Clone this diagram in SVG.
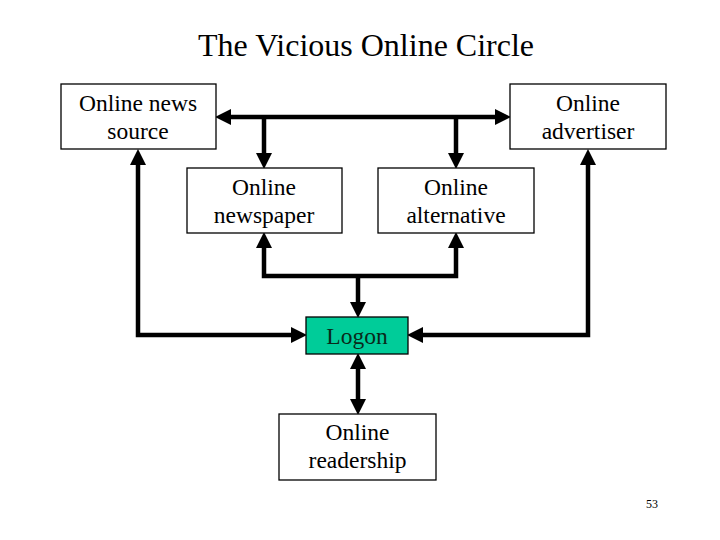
<svg xmlns="http://www.w3.org/2000/svg" width="720" height="540" viewBox="0 0 720 540">
<style>
.box{fill:#fff;stroke:#000;stroke-width:1.3}
.logon{fill:#00CC99;stroke:#000;stroke-width:1.3}
.t{font-family:"Liberation Serif","Times New Roman",serif;font-size:23.5px;text-anchor:middle;fill:#000}
.c{fill:none;stroke:#000;stroke-width:4.5;stroke-linejoin:miter}
.da{marker-start:url(#ah);marker-end:url(#ah)}
.ea{marker-end:url(#ah)}
</style>
<defs>
<marker id="ah" markerUnits="userSpaceOnUse" markerWidth="16" markerHeight="16" refX="0" refY="7.5" orient="auto-start-reverse" viewBox="0 0 15 15">
<path d="M0,0 L15,7.5 L0,15 z" fill="#000"/>
</marker>
</defs>
<rect width="720" height="540" fill="#fff"/>
<text x="366" y="56" style="font-family:'Liberation Serif','Times New Roman',serif;font-size:32px;text-anchor:middle">The Vicious Online Circle</text>
<g id="connectors">
<path class="c da" d="M231,117 H495"/>
<path class="c ea" d="M264,117 V153"/>
<path class="c ea" d="M456,117 V153"/>
<path class="c da" d="M264,248 V276 H456 V248"/>
<path class="c ea" d="M358,276 V302"/>
<path class="c da" d="M138,165 V335 H291"/>
<path class="c da" d="M588,165 V335 H423"/>
<path class="c da" d="M358,369 V399"/>
</g>
<g id="news-source">
<rect class="box" x="61" y="84" width="155" height="65"/>
<text class="t" x="138" y="110.5">Online news</text>
<text class="t" x="138" y="139">source</text>
</g>
<g id="advertiser">
<rect class="box" x="510" y="84" width="156" height="65"/>
<text class="t" x="588" y="110.5">Online</text>
<text class="t" x="588" y="139">advertiser</text>
</g>
<g id="newspaper">
<rect class="box" x="187" y="168" width="155" height="65"/>
<text class="t" x="264" y="195">Online</text>
<text class="t" x="264" y="223">newspaper</text>
</g>
<g id="alternative">
<rect class="box" x="378" y="168" width="156" height="65"/>
<text class="t" x="456" y="195">Online</text>
<text class="t" x="456" y="223">alternative</text>
</g>
<g id="logon">
<rect class="logon" x="306" y="317" width="102" height="37"/>
<text class="t" x="357" y="344" style="fill:#0a2a1a">Logon</text>
</g>
<g id="readership">
<rect class="box" x="279" y="414" width="157" height="66"/>
<text class="t" x="357.5" y="440">Online</text>
<text class="t" x="357.5" y="468">readership</text>
</g>
<text x="652" y="508" style="font-family:'Liberation Serif','Times New Roman',serif;font-size:12px;text-anchor:middle">53</text>
</svg>
